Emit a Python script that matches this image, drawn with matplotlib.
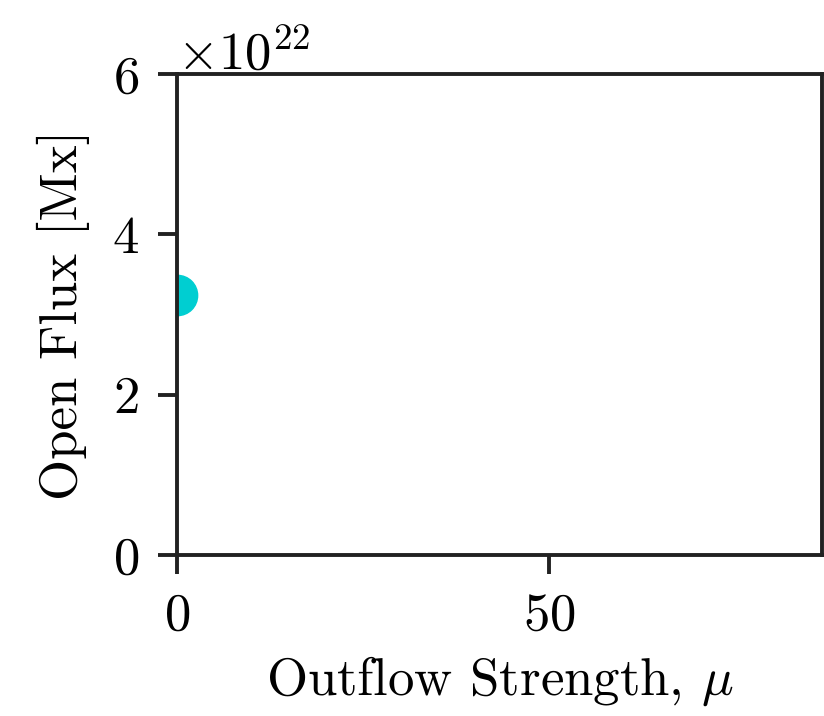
import matplotlib
matplotlib.use("Agg")
import matplotlib.pyplot as plt

plt.rcParams["font.family"] = ["cmr10", "DejaVu Serif"]
plt.rcParams["mathtext.fontset"] = "cm"
plt.rcParams["axes.formatter.use_mathtext"] = True
plt.rcParams["font.size"] = 38

mu = [0]
open_flux = [3.24e22]

fig = plt.figure(figsize=(8.24, 7.16), dpi=100)
ax = fig.add_axes([0.2148, 0.2249, 0.7828, 0.6717])

ax.plot(mu, open_flux, "o", ms=29, color="darkturquoise", clip_on=True, zorder=0.5)

ax.set_xlim(0, 86.7)
ax.set_ylim(0, 6e22)
ax.set_xticks([0, 50])
ax.set_yticks([0, 2e22, 4e22, 6e22])
ax.set_xlabel(r"Outflow Strength, $\mu$", labelpad=10)
ax.set_ylabel("Open Flux [Mx]", labelpad=16)

for s in ax.spines.values():
    s.set_linewidth(2.8)
    s.set_color("#222222")
ax.tick_params(width=2.8, length=13.5, color="#222222", pad=14)

fig.savefig("out.png", dpi=100)
